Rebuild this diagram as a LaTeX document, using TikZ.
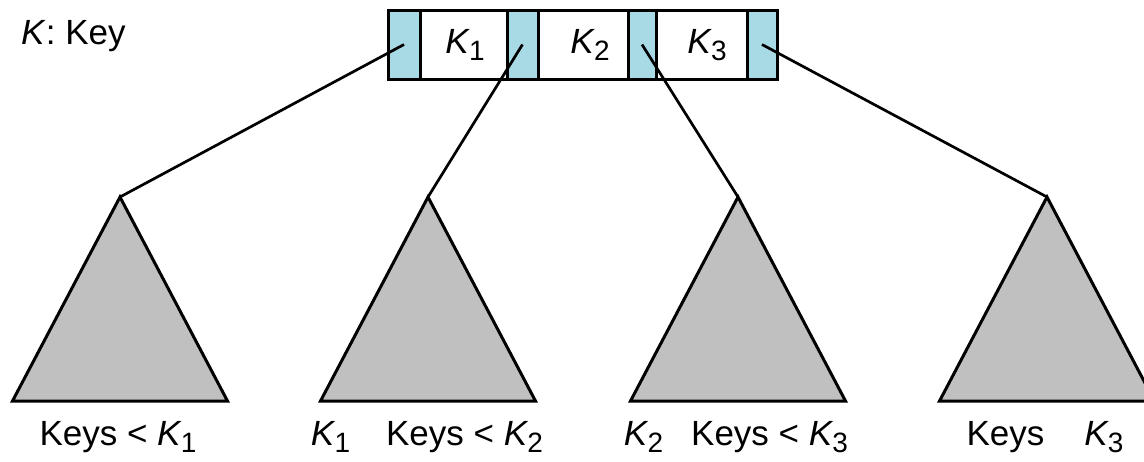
\documentclass[tikz,border=0pt]{standalone}
\usepackage{fontspec}
\setmainfont{Liberation Sans}
\newcommand\Ksub[1]{\textit{K}\kern-1pt\raisebox{-7pt}{\fontsize{28}{28}\selectfont #1}}
\definecolor{ptrblue}{RGB}{168,218,230}
\definecolor{subtree}{RGB}{192,192,192}
\begin{document}
\begin{tikzpicture}[x=1pt,y=-1pt,
  every node/.style={font=\fontsize{35}{40}\selectfont},
  cell/.style={draw,line width=3pt,minimum height=69pt,inner sep=0pt},
  ptr/.style={cell,fill=ptrblue},
  keycell/.style={cell,fill=white},
  tree/.style={draw,fill=subtree,line width=3pt,line join=miter},
  link/.style={line width=2.7pt},
  lbl/.style={anchor=base,inner sep=0pt}]
\clip (0,0) rectangle (1144,461);

% legend
\node[anchor=base west,inner sep=0pt] (legend) at (21,44) {\textit{K}: Key};

% the node with its pointers and keys
\node[ptr,minimum width=32pt] (p1) at (404,44.5) {};
\node[keycell,minimum width=87pt] (k1) at (463.5,44.5) {};
\node[ptr,minimum width=31pt] (p2) at (522.5,44.5) {};
\node[keycell,minimum width=90pt] (k2) at (583,44.5) {};
\node[ptr,minimum width=28pt] (p3) at (642,44.5) {};
\node[keycell,minimum width=91pt] (k3) at (701.5,44.5) {};
\node[ptr,minimum width=30pt] (p4) at (762,44.5) {};
\node[lbl] (k1t) at (465,53) {\Ksub{1}};
\node[lbl] (k2t) at (590,53) {\Ksub{2}};
\node[lbl] (k3t) at (707,53) {\Ksub{3}};

% subtrees
\coordinate (t1) at (120,197);
\coordinate (t2) at (428,197);
\coordinate (t3) at (738,197);
\coordinate (t4) at (1047,197);
\foreach \t in {t1,t2,t3,t4}
  \draw[tree] (\t) -- ++(107.5,204) -- ++(-215,0) -- cycle;

% pointers to subtrees
\draw[link] (p1.center) -- (t1);
\draw[link] (p2.center) -- (t2);
\draw[link] (p3.center) -- (t3);
\draw[link] (p4.center) -- (t4);

% key ranges
\node[lbl] (r1) at (118,445) {Keys < \Ksub{1}};
\node[lbl] (r2) at (427,445) {\Ksub{1}\hspace{36pt}Keys < \Ksub{2}};
\node[lbl] (r3) at (736,445) {\Ksub{2}\hspace{28pt}Keys < \Ksub{3}};
\node[lbl] (r4) at (1045,445) {Keys\hspace{40pt}\Ksub{3}};
\end{tikzpicture}
\end{document}
